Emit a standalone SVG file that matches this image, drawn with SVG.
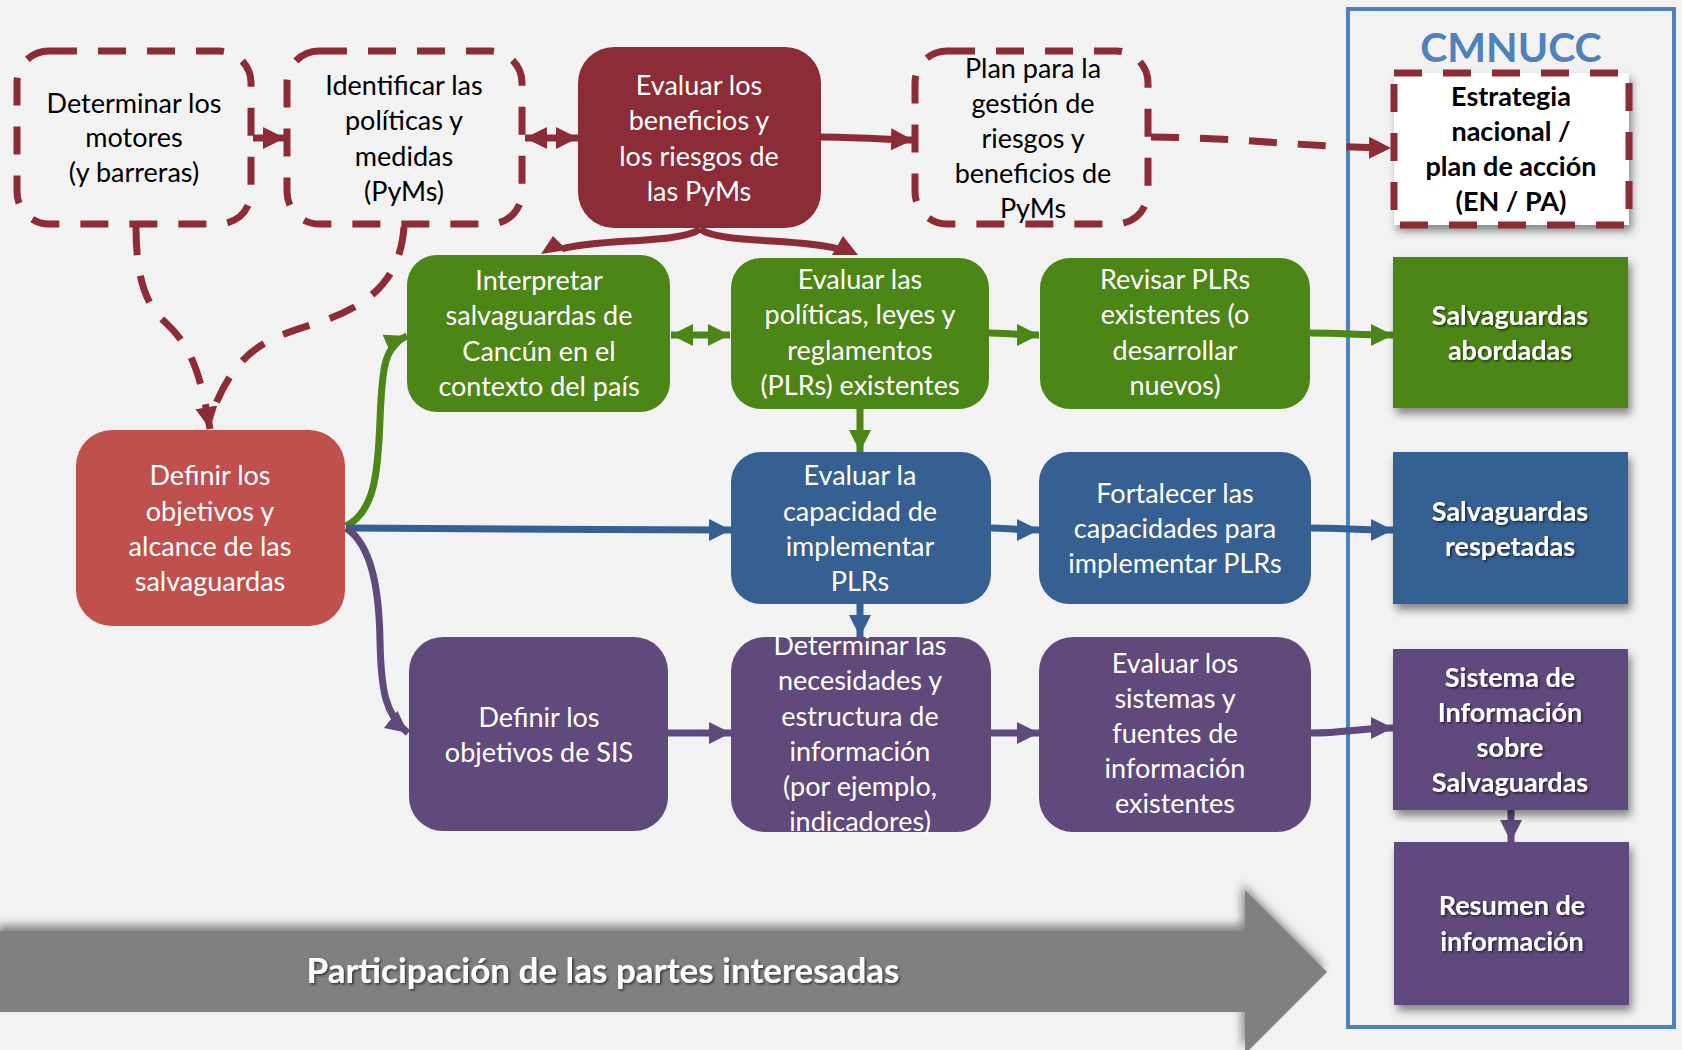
<svg xmlns="http://www.w3.org/2000/svg" width="1682" height="1050" viewBox="0 0 1682 1050">
<defs>
<style>
.t{font-family:Lato,"Open Sans","Liberation Sans",sans-serif;font-size:27px;text-anchor:middle}
.w{fill:#FFFFFF}
.k{fill:#000000}
.b{font-weight:bold}
.big{font-size:41px;fill:#4F81BD}
.arr{font-size:35px}
.dash{fill:none;stroke:#8B2C36;stroke-width:7;stroke-dasharray:28 21}
.dr{fill:none;stroke:#8B2C36;stroke-width:7}
.gr{fill:none;stroke:#4C8616;stroke-width:7}
.bl{fill:none;stroke:#366092;stroke-width:7}
.pu{fill:none;stroke:#604A7B;stroke-width:7}
</style>
<filter id="sh" x="-10%" y="-10%" width="125%" height="130%">
<feDropShadow dx="3" dy="6" stdDeviation="4" flood-color="#000" flood-opacity="0.45"/>
</filter>
<filter id="tsh" x="-10%" y="-30%" width="120%" height="160%">
<feDropShadow dx="1.5" dy="1.5" stdDeviation="1" flood-color="#000" flood-opacity="0.6"/>
</filter>
<filter id="ash" x="-5%" y="-20%" width="110%" height="140%">
<feDropShadow dx="-3" dy="-6" stdDeviation="5" flood-color="#000" flood-opacity="0.45"/>
</filter>
<marker id="mr" markerUnits="userSpaceOnUse" markerWidth="24" markerHeight="24" refX="22" refY="11" orient="auto-start-reverse"><path d="M0,0 L22,11 L0,22 z" fill="#8B2C36"/></marker>
<marker id="mg" markerUnits="userSpaceOnUse" markerWidth="24" markerHeight="24" refX="22" refY="11" orient="auto-start-reverse"><path d="M0,0 L22,11 L0,22 z" fill="#4C8616"/></marker>
<marker id="mb" markerUnits="userSpaceOnUse" markerWidth="24" markerHeight="24" refX="22" refY="11" orient="auto-start-reverse"><path d="M0,0 L22,11 L0,22 z" fill="#366092"/></marker>
<marker id="mp" markerUnits="userSpaceOnUse" markerWidth="24" markerHeight="24" refX="22" refY="11" orient="auto-start-reverse"><path d="M0,0 L22,11 L0,22 z" fill="#604A7B"/></marker>
</defs>
<rect width="1682" height="1050" fill="#F2F2F2"/>

<g id="participacion">
<polygon points="0,931 1245,931 1245,890 1327,972 1245,1054 1245,1012 0,1012" fill="#808080" filter="url(#ash)"/>
<text class="t w b arr" x="603" y="983" filter="url(#tsh)">Participación de las partes interesadas</text>
</g>

<g id="cmnucc">
<rect x="1348" y="9" width="326" height="1018" fill="none" stroke="#4F81BD" stroke-width="4"/>
<text class="t b big" x="1511" y="62">CMNUCC</text>
</g>

<g id="connectors">
<line class="dr" x1="253" y1="138" x2="285" y2="138" marker-end="url(#mr)"/>
<line class="dr" x1="525" y1="138" x2="578" y2="138" marker-start="url(#mr)" marker-end="url(#mr)"/>
<path class="dr" d="M821 137 C850 137 880 139 913 140" marker-end="url(#mr)"/>
<path class="dash" d="M1151 137 C1250 138 1300 147 1391 148" marker-end="url(#mr)"/>
<path class="dash" d="M136 227 C136 275 145 305 165 322 C190 345 200 370 210 429" marker-end="url(#mr)"/>
<path class="dash" d="M404 227 C400 280 370 305 320 322 C270 338 240 345 214 408"/>
<path class="dr" d="M700 229 C680 244 600 238 562 249"/>
<polygon points="553,236 541,254 567,250" fill="#8B2C36"/>
<path class="dr" d="M700 229 C720 244 800 238 838 249"/>
<polygon points="843,236 832,255 858,255" fill="#8B2C36"/>
<path class="gr" d="M346 526 C374 512 378 475 380 420 C382 368 384 346 407 336" marker-end="url(#mg)"/>
<path class="bl" d="M346 528 C500 528 600 530 731 530" marker-end="url(#mb)"/>
<path class="pu" d="M346 528 C372 545 379 590 380 640 C381 690 385 715 408 733" marker-end="url(#mp)"/>
<line class="gr" x1="671" y1="335" x2="730" y2="335" marker-start="url(#mg)" marker-end="url(#mg)"/>
<path class="gr" d="M989 333 C1005 333 1015 335 1039 335" marker-end="url(#mg)"/>
<path class="gr" d="M1310 333 C1340 333 1360 335 1393 335" marker-end="url(#mg)"/>
<line class="gr" x1="860" y1="409" x2="860" y2="452" marker-end="url(#mg)"/>
<path class="bl" d="M991 528 C1005 528 1015 530 1039 530" marker-end="url(#mb)"/>
<path class="bl" d="M1311 528 C1340 528 1360 530 1393 530" marker-end="url(#mb)"/>
<line class="bl" x1="860" y1="604" x2="860" y2="637" marker-end="url(#mb)"/>
<line class="pu" x1="668" y1="733" x2="731" y2="733" marker-end="url(#mp)"/>
<line class="pu" x1="991" y1="733" x2="1039" y2="733" marker-end="url(#mp)"/>
<path class="pu" d="M1311 733 C1345 733 1360 728 1393 728" marker-end="url(#mp)"/>
<line class="pu" x1="1511" y1="810" x2="1511" y2="842" marker-end="url(#mp)"/>
</g>

<g id="determinar-motores">
<rect x="17" y="51" width="234" height="173" rx="32" class="dash"/>
<text class="t k"><tspan x="134" y="113">Determinar los</tspan><tspan x="134" y="147">motores</tspan><tspan x="134" y="182">(y barreras)</tspan></text>
</g>

<g id="identificar-pyms">
<rect x="287" y="51" width="235" height="173" rx="32" class="dash"/>
<text class="t k"><tspan x="404" y="95">Identificar las</tspan><tspan x="404" y="130">políticas y</tspan><tspan x="404" y="166">medidas</tspan><tspan x="404" y="201">(PyMs)</tspan></text>
</g>

<g id="evaluar-beneficios">
<rect x="578" y="47" width="243" height="181" rx="36" fill="#8B2C36"/>
<text class="t w"><tspan x="699" y="95">Evaluar los</tspan><tspan x="699" y="130">beneficios y</tspan><tspan x="699" y="166">los riesgos de</tspan><tspan x="699" y="201">las PyMs</tspan></text>
</g>

<g id="plan-gestion">
<rect x="915" y="51" width="233" height="173" rx="32" class="dash"/>
<text class="t k"><tspan x="1033" y="78">Plan para la</tspan><tspan x="1033" y="113">gestión de</tspan><tspan x="1033" y="148">riesgos y</tspan><tspan x="1033" y="183">beneficios de</tspan><tspan x="1033" y="218">PyMs</tspan></text>
</g>

<g id="estrategia-nacional">
<rect x="1394" y="73" width="235" height="152" fill="#FFFFFF" filter="url(#sh)"/>
<rect x="1394" y="73" width="235" height="152" class="dash"/>
<text class="t k b"><tspan x="1511" y="106">Estrategia</tspan><tspan x="1511" y="141">nacional /</tspan><tspan x="1511" y="176">plan de acción</tspan><tspan x="1511" y="211">(EN / PA)</tspan></text>
</g>

<g id="interpretar">
<rect x="407" y="255" width="263" height="157" rx="30" fill="#4C8616"/>
<text class="t w"><tspan x="539" y="290">Interpretar</tspan><tspan x="539" y="325">salvaguardas de</tspan><tspan x="539" y="361">Cancún en el</tspan><tspan x="539" y="396">contexto del país</tspan></text>
</g>

<g id="evaluar-plrs">
<rect x="731" y="258" width="258" height="151" rx="30" fill="#4C8616"/>
<text class="t w"><tspan x="860" y="289">Evaluar las</tspan><tspan x="860" y="324">políticas, leyes y</tspan><tspan x="860" y="360">reglamentos</tspan><tspan x="860" y="395">(PLRs) existentes</tspan></text>
</g>

<g id="revisar-plrs">
<rect x="1040" y="258" width="270" height="151" rx="30" fill="#4C8616"/>
<text class="t w"><tspan x="1175" y="289">Revisar PLRs</tspan><tspan x="1175" y="324">existentes (o</tspan><tspan x="1175" y="360">desarrollar</tspan><tspan x="1175" y="395">nuevos)</tspan></text>
</g>

<g id="salvaguardas-abordadas">
<rect x="1393" y="257" width="235" height="151" fill="#4C8616" filter="url(#sh)"/>
<text class="t w b" filter="url(#tsh)"><tspan x="1510" y="325">Salvaguardas</tspan><tspan x="1510" y="360">abordadas</tspan></text>
</g>

<g id="definir-objetivos">
<rect x="76" y="430" width="269" height="196" rx="36" fill="#C0504D"/>
<text class="t w"><tspan x="210" y="485">Definir los</tspan><tspan x="210" y="521">objetivos y</tspan><tspan x="210" y="556">alcance de las</tspan><tspan x="210" y="591">salvaguardas</tspan></text>
</g>

<g id="evaluar-capacidad">
<rect x="731" y="452" width="260" height="152" rx="30" fill="#366092"/>
<text class="t w"><tspan x="860" y="485">Evaluar la</tspan><tspan x="860" y="521">capacidad de</tspan><tspan x="860" y="556">implementar</tspan><tspan x="860" y="591">PLRs</tspan></text>
</g>

<g id="fortalecer">
<rect x="1039" y="452" width="272" height="152" rx="30" fill="#366092"/>
<text class="t w"><tspan x="1175" y="503">Fortalecer las</tspan><tspan x="1175" y="538">capacidades para</tspan><tspan x="1175" y="573">implementar PLRs</tspan></text>
</g>

<g id="salvaguardas-respetadas">
<rect x="1393" y="452" width="235" height="152" fill="#366092" filter="url(#sh)"/>
<text class="t w b" filter="url(#tsh)"><tspan x="1510" y="521">Salvaguardas</tspan><tspan x="1510" y="556">respetadas</tspan></text>
</g>

<g id="definir-sis">
<rect x="409" y="637" width="259" height="194" rx="34" fill="#604A7B"/>
<text class="t w"><tspan x="539" y="727">Definir los</tspan><tspan x="539" y="762">objetivos de SIS</tspan></text>
</g>

<g id="determinar-necesidades">
<rect x="731" y="637" width="260" height="195" rx="34" fill="#604A7B"/>
<text class="t w"><tspan x="860" y="655">Determinar las</tspan><tspan x="860" y="690">necesidades y</tspan><tspan x="860" y="726">estructura de</tspan><tspan x="860" y="761">información</tspan><tspan x="860" y="796">(por ejemplo,</tspan><tspan x="860" y="831">indicadores)</tspan></text>
</g>

<g id="evaluar-sistemas">
<rect x="1039" y="637" width="272" height="195" rx="34" fill="#604A7B"/>
<text class="t w"><tspan x="1175" y="673">Evaluar los</tspan><tspan x="1175" y="708">sistemas y</tspan><tspan x="1175" y="743">fuentes de</tspan><tspan x="1175" y="778">información</tspan><tspan x="1175" y="813">existentes</tspan></text>
</g>

<g id="sistema-informacion">
<rect x="1393" y="649" width="235" height="161" fill="#604A7B" filter="url(#sh)"/>
<text class="t w b" filter="url(#tsh)"><tspan x="1510" y="687">Sistema de</tspan><tspan x="1510" y="722">Información</tspan><tspan x="1510" y="757">sobre</tspan><tspan x="1510" y="792">Salvaguardas</tspan></text>
</g>

<g id="resumen-informacion">
<rect x="1394" y="842" width="235" height="163" fill="#604A7B" filter="url(#sh)"/>
<text class="t w b" filter="url(#tsh)"><tspan x="1512" y="915">Resumen de</tspan><tspan x="1512" y="951">información</tspan></text>
</g>
</svg>
